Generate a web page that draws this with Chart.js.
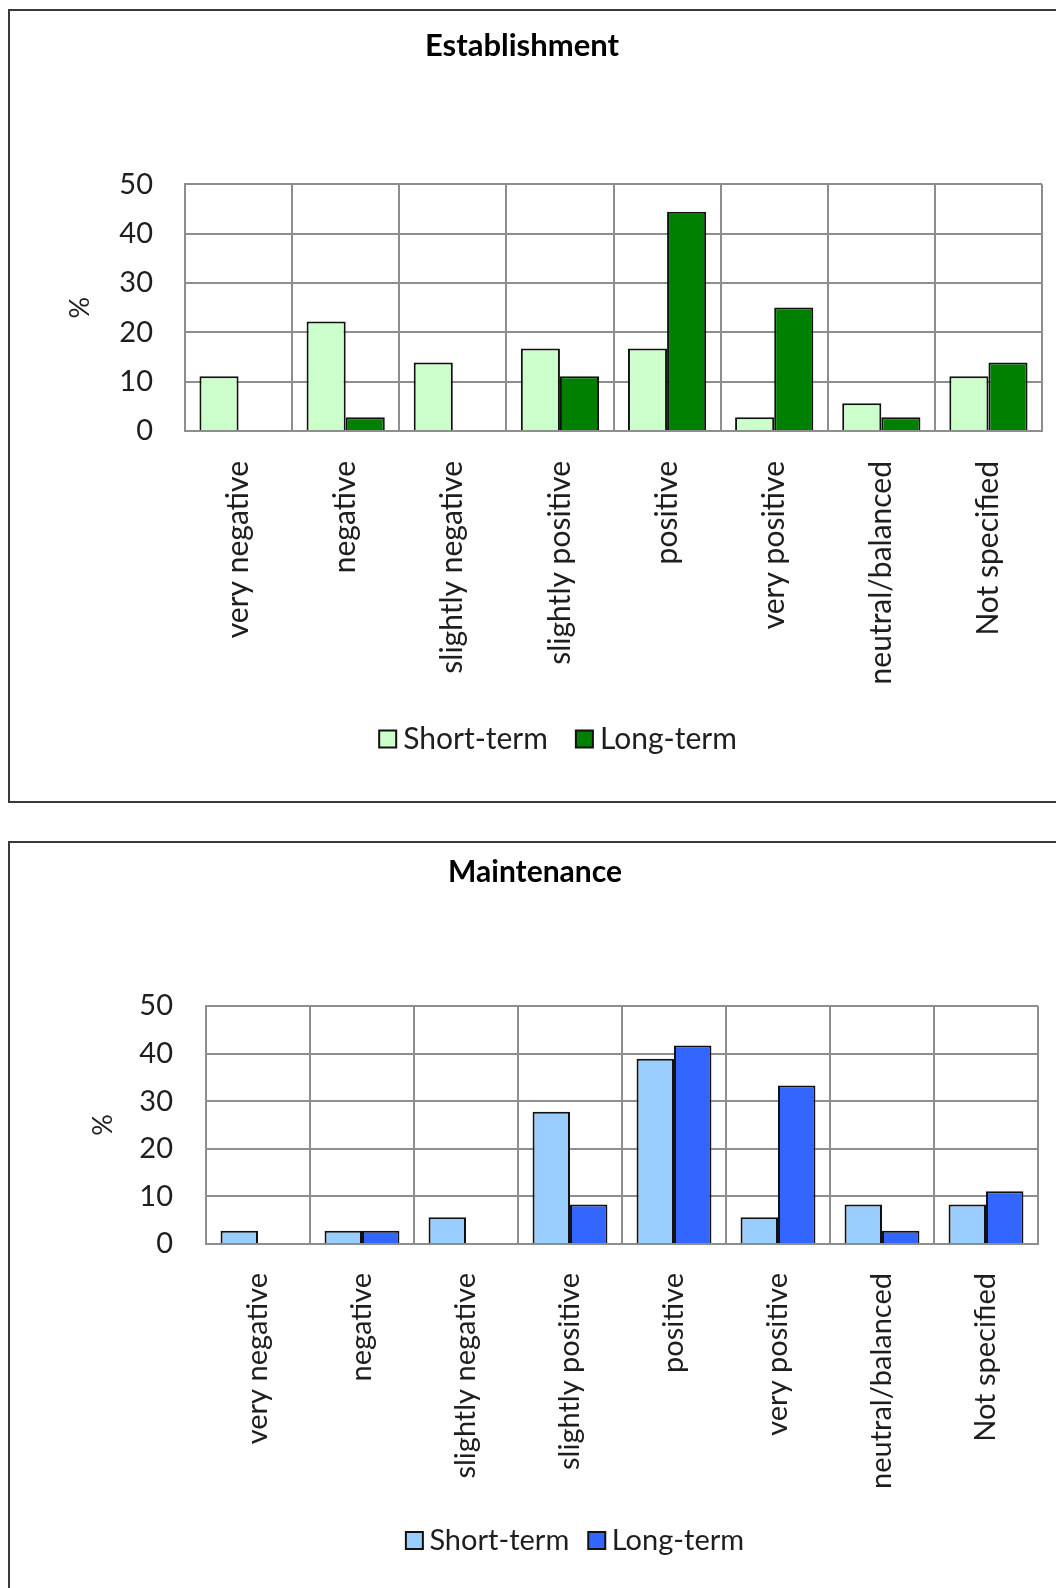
<!DOCTYPE html>
<html>
<head>
<meta charset="utf-8">
<script src="https://cdn.jsdelivr.net/npm/chart.js@4/dist/chart.umd.min.js"></script>
<style>
  html, body { margin: 0; padding: 0; background: #fff; overflow: hidden; }
  body { width: 1056px; height: 1588px; position: relative; }
  .panel { position: absolute; left: 8px; width: 1100px; box-sizing: border-box;
           border: 2px solid #3a3a3a; border-right: none; background: #fff; }
  #panelA { top: 9px; height: 794px; }
  #panelB { top: 841px; height: 800px; }
  canvas { position: absolute; }
  #chartA { left: 10px; top: 11px; }
  #chartB { left: 10px; top: 843px; }
</style>
</head>
<body>
<div class="panel" id="panelA"></div>
<div class="panel" id="panelB"></div>
<canvas id="chartA" width="1046" height="790"></canvas>
<canvas id="chartB" width="1046" height="745"></canvas>
<script>
// Perception categories shared by both panels
const categories = ['very negative', 'negative', 'slightly negative', 'slightly positive',
                    'positive', 'very positive', 'neutral/balanced', 'Not specified'];
const seriesNames = ['Short-term', 'Long-term'];

// Establishment (% of studies)
const establishmentShort = [11.1, 22.2, 13.9, 16.7, 16.7, 2.8, 5.6, 11.1];
const establishmentLong  = [0, 2.8, 0, 11.1, 44.4, 25.0, 2.8, 13.9];

// Maintenance (% of studies)
const maintenanceShort = [2.8, 2.8, 5.6, 27.8, 38.9, 5.6, 8.3, 8.3];
const maintenanceLong  = [0, 2.8, 0, 8.3, 41.7, 33.3, 2.8, 11.1];

// Value axis
const yMin = 0;
const yMax = 50;
const yStep = 10;
const yAxisTitle = '%';

const FONT = 'Lato, "Open Sans", "Liberation Sans", sans-serif';
const INK = '#1e1e1e';
const GRID = '#8e8e8e';

// Moves the title and legend blocks horizontally to a chosen centre
const centerBlocks = {
  id: 'centerBlocks',
  afterLayout(chart, args, opts) {
    const move = (box, cx) => {
      if (!box || cx == null) return;
      const d = cx - (box.left + box.right) / 2;
      box.left += d;
      box.right += d;
    };
    move(chart.titleBlock, opts.titleX);
    move(chart.legend, opts.legendX);
  }
};

function buildChart(id, p) {
  return new Chart(document.getElementById(id), {
    type: 'bar',
    data: {
      labels: categories,
      datasets: [
        { label: seriesNames[0], data: p.short, backgroundColor: p.colors[0],
          borderColor: '#111', borderWidth: 2 },
        { label: seriesNames[1], data: p.long, backgroundColor: p.colors[1],
          borderColor: '#111', borderWidth: 2 }
      ]
    },
    options: {
      responsive: false,
      animation: false,
      devicePixelRatio: 1,
      categoryPercentage: p.catPct,
      barPercentage: 1.0,
      layout: { padding: { left: 0, right: p.padRight, top: 0, bottom: p.padBottom } },
      plugins: {
        centerBlocks: { titleX: p.titleX, legendX: p.legendX },
        title: {
          display: true,
          text: p.title,
          color: '#000',
          font: { family: FONT, size: p.titleSize, weight: 'bold', lineHeight: 1.2 },
          padding: { top: p.titleTop, bottom: p.titleBottom }
        },
        legend: {
          display: true,
          position: 'bottom',
          labels: {
            color: INK,
            font: { family: FONT, size: p.legendSize },
            usePointStyle: true,
            pointStyle: 'rect',
            boxWidth: 1,
            boxHeight: 17,
            padding: p.legendPad
          }
        },
        tooltip: { enabled: false }
      },
      scales: {
        x: {
          grid: { display: true, offset: true, color: GRID, lineWidth: 2, drawTicks: false },
          border: { display: true, color: GRID, width: 2 },
          ticks: {
            color: INK,
            font: { family: FONT, size: p.xSize },
            minRotation: 90,
            maxRotation: 90,
            autoSkip: false,
            padding: p.xPad
          },
          afterFit: (s) => { s.height = p.xAxisH; }
        },
        y: {
          min: yMin,
          max: yMax,
          grid: { color: GRID, lineWidth: 2, drawTicks: false },
          border: { display: true, color: GRID, width: 2 },
          ticks: {
            stepSize: yStep,
            color: INK,
            font: { family: FONT, size: 29 },
            padding: p.yPad
          },
          title: {
            display: true,
            text: yAxisTitle,
            color: INK,
            font: { family: FONT, size: 27, lineHeight: 1.2 },
            padding: { top: p.yTitleOffset, bottom: 0 }
          },
          afterFit: (s) => { s.width = p.yAxisW; }
        }
      }
    },
    plugins: [centerBlocks]
  });
}

buildChart('chartA', {
  title: 'Establishment',
  titleSize: 31,
  short: establishmentShort,
  long: establishmentLong,
  colors: ['#ccffcc', '#008000'],
  catPct: 0.73,
  padRight: 14,
  padBottom: 37,
  titleX: 512,
  legendX: 552,
  titleTop: 16,
  titleBottom: 120,
  legendSize: 30,
  legendPad: 36,
  xSize: 30,
  xPad: 30,
  xAxisH: 257,
  yPad: 32,
  yAxisW: 175,
  yTitleOffset: 54
});

buildChart('chartB', {
  title: 'Maintenance',
  titleSize: 30,
  short: maintenanceShort,
  long: maintenanceLong,
  colors: ['#99ccff', '#3366ff'],
  catPct: 0.72,
  padRight: 18,
  padBottom: 23,
  titleX: 525,
  legendX: 569,
  titleTop: 11,
  titleBottom: 116,
  legendSize: 29,
  legendPad: 27,
  xSize: 29,
  xPad: 29,
  xAxisH: 255,
  yPad: 33,
  yAxisW: 196,
  yTitleOffset: 77
});
</script>
</body>
</html>
